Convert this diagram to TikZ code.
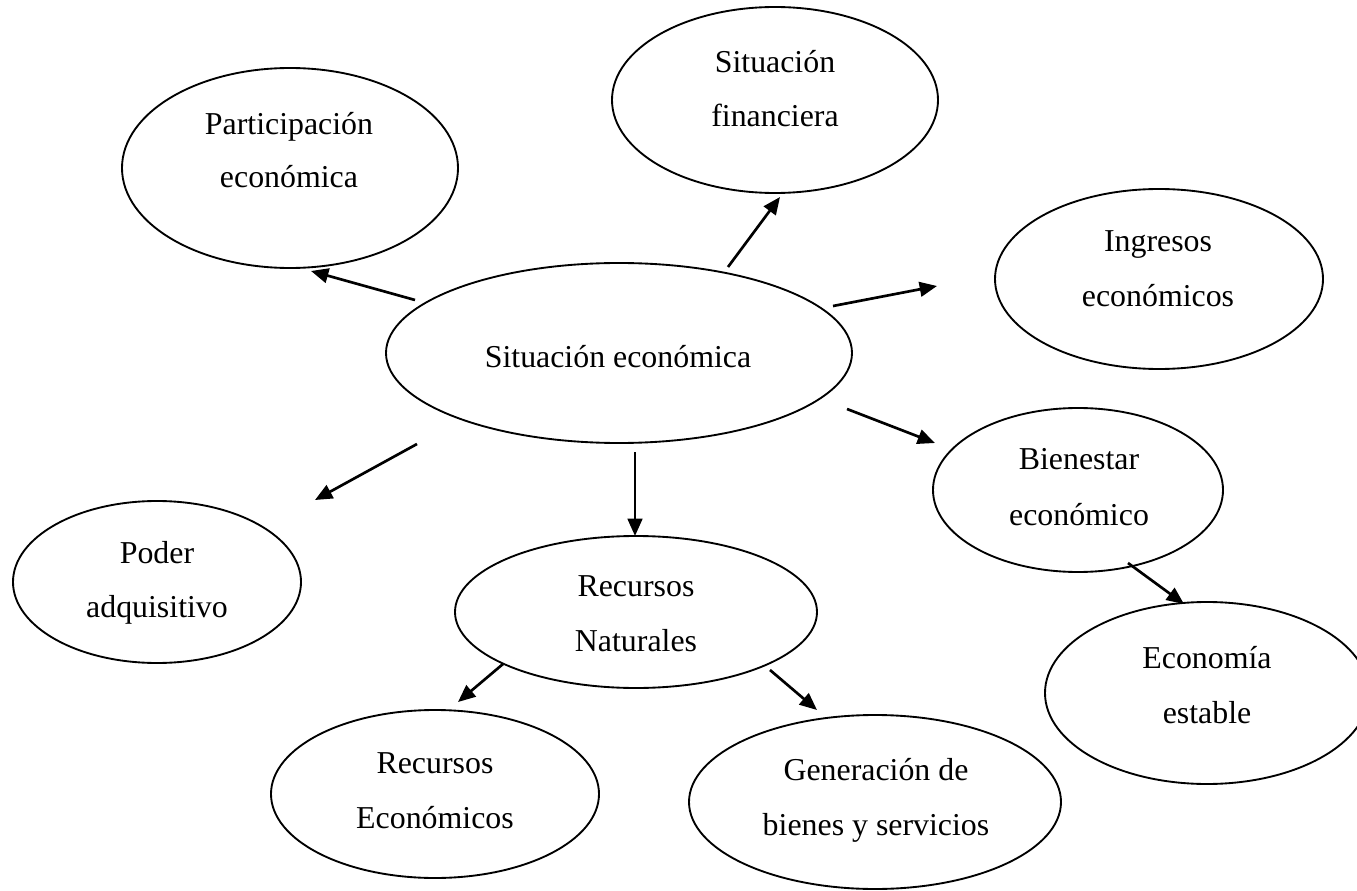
\documentclass[tikz,border=0pt]{standalone}
\usepackage{fontspec}
\setmainfont{Liberation Serif}
\usetikzlibrary{shapes.geometric,arrows.meta}
\newcommand\diagfs{\fontsize{23.9}{41}\selectfont}
\tikzset{
  ell/.style={draw, ellipse, line width=1.4pt, inner sep=0pt},
  txt/.style={anchor=base, font=\diagfs, inner sep=0pt},
  arr/.style={-{Triangle[length=13pt,width=11pt]}, line width=2pt}
}
\begin{document}
\begin{tikzpicture}[x=0.75pt,y=-0.75pt]
\useasboundingbox (0,0) rectangle (1357,891);
% ellipses
\node[ell, minimum width=252pt, minimum height=150pt] (part) at (290,168) {};
\node[ell, minimum width=244.5pt, minimum height=139.5pt] (fin) at (775,100) {};
\node[ell, minimum width=246pt, minimum height=135pt] (ing) at (1159,279) {};
\node[ell, minimum width=349.5pt, minimum height=135pt] (sit) at (619,353) {};
\node[ell, minimum width=217.5pt, minimum height=123pt] (bien) at (1078,490) {};
\node[ell, minimum width=216pt, minimum height=121.5pt] (poder) at (157,582) {};
\node[ell, minimum width=271.5pt, minimum height=114pt] (rnat) at (636,612) {};
\node[ell, minimum width=246pt, minimum height=126pt] (recon) at (435,794) {};
\node[ell, minimum width=279pt, minimum height=130.5pt] (gen) at (875,802) {};
\node[ell, minimum width=243pt, minimum height=136.5pt] (econ) at (1207,693) {};
% texts
\node[txt] (partA) at (289,135) {Participación};
\node[txt] (partB) at (289,188) {económica};
\node[txt] (finA) at (775,73) {Situación};
\node[txt] (finB) at (775,127) {financiera};
\node[txt] (ingA) at (1158,252) {Ingresos};
\node[txt] (ingB) at (1158,307) {económicos};
\node[txt] (sitA) at (618,368) {Situación económica};
\node[txt] (bienA) at (1079,469) {Bienestar};
\node[txt] (bienB) at (1079,525) {económico};
\node[txt] (poderA) at (157,563) {Poder};
\node[txt] (poderB) at (157,617) {adquisitivo};
\node[txt] (rnatA) at (636,596) {Recursos};
\node[txt] (rnatB) at (636,651) {Naturales};
\node[txt] (reconA) at (435,773) {Recursos};
\node[txt] (reconB) at (435,828) {Económicos};
\node[txt] (genA) at (876,780) {Generación de};
\node[txt] (genB) at (876,835) {bienes y servicios};
\node[txt] (econA) at (1207,668) {Economía};
\node[txt] (econB) at (1207,723) {estable};
% arrow end points
\coordinate (s1) at (415,300); \coordinate (t1) at (311,271);
\coordinate (s2) at (728,267); \coordinate (t2) at (780,197);
\coordinate (s3) at (833,306); \coordinate (t3) at (937,286);
\coordinate (s4) at (847,409); \coordinate (t4) at (935,443);
\coordinate (s5) at (417,444); \coordinate (t5) at (315,500);
\coordinate (s6) at (635,452); \coordinate (t6) at (635,536);
\coordinate (s7) at (503,664); \coordinate (t7) at (458,702);
\coordinate (s8) at (770,670); \coordinate (t8) at (817,710);
\coordinate (s9) at (1128,563); \coordinate (t9) at (1184,604);
\foreach \i in {1,...,9} { \draw[arr] (s\i) -- (t\i); }
\end{tikzpicture}
\end{document}
